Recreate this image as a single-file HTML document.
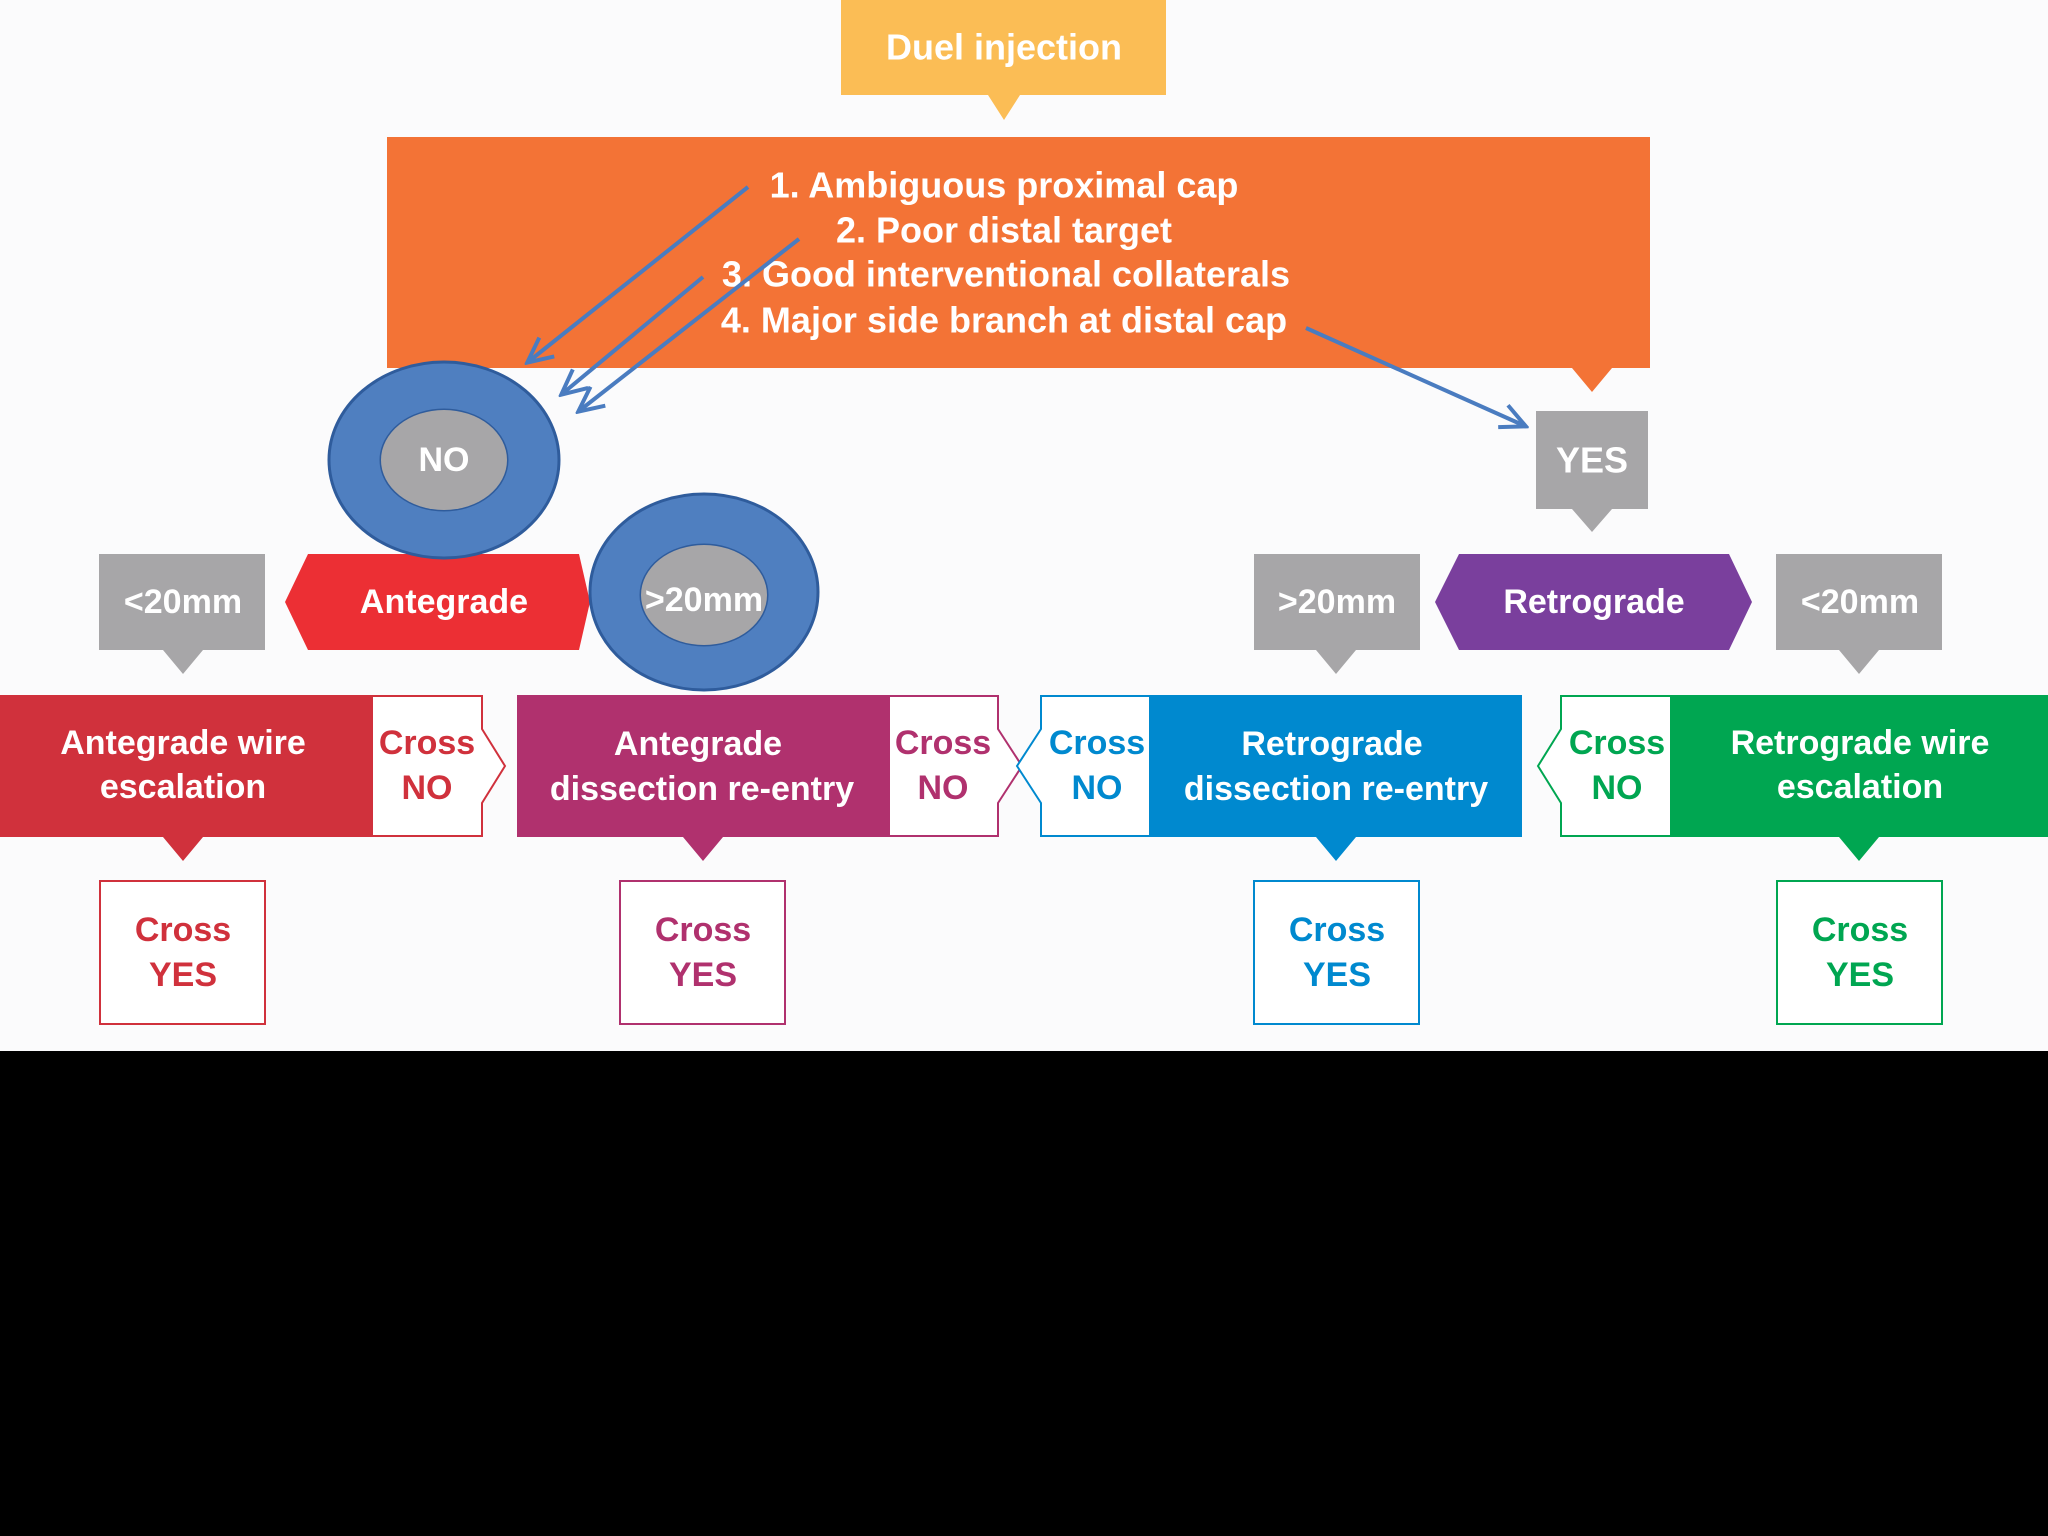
<!DOCTYPE html>
<html><head><meta charset="utf-8"><style>
html,body{margin:0;padding:0;background:#000;}
svg{display:block;}
text{font-family:"Liberation Sans",Arial,sans-serif;font-weight:bold;text-anchor:middle;dominant-baseline:central;}
</style></head><body>
<svg width="2048" height="1536" viewBox="0 0 2048 1536" xmlns="http://www.w3.org/2000/svg">
<defs><marker id="ah" markerWidth="10" markerHeight="10" refX="8" refY="5" orient="auto" markerUnits="userSpaceOnUse" viewBox="0 0 10 10"><path d="M0,0 L9,5 L0,10" fill="none" stroke="#4a7cc0" stroke-width="1.6"/></marker>
<marker id="ah2" markerWidth="30" markerHeight="30" refX="26" refY="15" orient="auto" markerUnits="userSpaceOnUse"><path d="M2,3 L27,15 L2,27" fill="none" stroke="#4a7cc0" stroke-width="4"/></marker></defs>
<rect x="0" y="0" width="2048" height="1051" fill="#fbfbfc"/>
<!-- Duel injection -->
<path d="M841,0 H1166 V95 H1020 L1004,120 L988,95 H841 Z" fill="#fbbd55"/>
<text x="1004" y="47" font-size="36" fill="#fff">Duel injection</text>
<!-- orange -->
<path d="M387,137 H1650 V368 H1612 L1592,392 L1572,368 H387 Z" fill="#f37336"/>
<g font-size="36" fill="#fff">
<text x="1004" y="185">1.  Ambiguous proximal cap</text>
<text x="1004" y="230">2.  Poor distal target</text>
<text x="1006" y="274">3.  Good interventional collaterals</text>
<text x="1004" y="320">4. Major side branch at distal cap</text>
</g>
<!-- YES -->
<path d="M1536,411 H1648 V509 H1612 L1592,532 L1572,509 H1536 Z" fill="#a7a6a8"/>
<text x="1592" y="460" font-size="36" fill="#fff">YES</text>
<!-- row 2 -->
<path d="M99,554 H265 V650 H203 L183,674 L163,650 H99 Z" fill="#a7a6a8"/>
<text x="183" y="602" font-size="34" fill="#fff">&lt;20mm</text>
<path d="M308,554 H579 L590,602 L579,650 H308 L285,602 Z" fill="#ec2f34"/>
<text x="444" y="602" font-size="34" fill="#fff">Antegrade</text>
<path d="M620,554 H787 V650 H724 L704,674 L684,650 H620 Z" fill="#a7a6a8"/>
<path d="M1254,554 H1420 V650 H1356 L1336,674 L1316,650 H1254 Z" fill="#a7a6a8"/>
<text x="1337" y="602" font-size="34" fill="#fff">&gt;20mm</text>
<path d="M1459,554 H1729 L1752,602 L1729,650 H1459 L1435,602 Z" fill="#7a3f9d"/>
<text x="1594" y="602" font-size="34" fill="#fff">Retrograde</text>
<path d="M1776,554 H1942 V650 H1879 L1859,674 L1839,650 H1776 Z" fill="#a7a6a8"/>
<text x="1860" y="602" font-size="34" fill="#fff">&lt;20mm</text>
<!-- row 3 -->
<path d="M0,695 H371 V837 H203 L183,861 L163,837 H0 Z" fill="#d0313c"/>
<path d="M372,696 H482 V729 L505,766 L482,803 V836 H372 Z" fill="#fff" stroke="#d0313c" stroke-width="2"/>
<text x="183" y="743" font-size="34" fill="#fff">Antegrade wire</text>
<text x="183" y="787" font-size="34" fill="#fff">escalation</text>
<text x="427" y="743" font-size="34" fill="#d0313c">Cross</text>
<text x="427" y="788" font-size="34" fill="#d0313c">NO</text>

<path d="M517,695 H888 V837 H723 L703,861 L683,837 H517 Z" fill="#b0316e"/>
<path d="M889,696 H998 V729 L1022,766 L998,803 V836 H889 Z" fill="#fff" stroke="#b0316e" stroke-width="2"/>
<text x="698" y="744" font-size="34" fill="#fff">Antegrade</text>
<text x="702" y="789" font-size="34" fill="#fff">dissection re-entry</text>
<text x="943" y="743" font-size="34" fill="#b0316e">Cross</text>
<text x="943" y="788" font-size="34" fill="#b0316e">NO</text>

<path d="M1151,695 H1522 V837 H1356 L1336,861 L1316,837 H1151 Z" fill="#0089cf"/>
<path d="M1150,696 H1041 V729 L1017,766 L1041,803 V836 H1150 Z" fill="#fff" stroke="#0089cf" stroke-width="2"/>
<text x="1332" y="744" font-size="34" fill="#fff">Retrograde</text>
<text x="1336" y="789" font-size="34" fill="#fff">dissection re-entry</text>
<text x="1097" y="743" font-size="34" fill="#0089cf">Cross</text>
<text x="1097" y="788" font-size="34" fill="#0089cf">NO</text>

<path d="M1672,695 H2048 V837 H1879 L1859,861 L1839,837 H1672 Z" fill="#00a651"/>
<path d="M1671,696 H1561 V729 L1538,766 L1561,803 V836 H1671 Z" fill="#fff" stroke="#00a651" stroke-width="2"/>
<text x="1860" y="743" font-size="34" fill="#fff">Retrograde wire</text>
<text x="1860" y="787" font-size="34" fill="#fff">escalation</text>
<text x="1617" y="743" font-size="34" fill="#00a651">Cross</text>
<text x="1617" y="788" font-size="34" fill="#00a651">NO</text>
<!-- bottom -->
<rect x="100" y="881" width="165" height="143" fill="#fff" stroke="#d0313c" stroke-width="2"/>
<text x="183" y="930" font-size="34" fill="#d0313c">Cross</text><text x="183" y="975" font-size="34" fill="#d0313c">YES</text>
<rect x="620" y="881" width="165" height="143" fill="#fff" stroke="#b0316e" stroke-width="2"/>
<text x="703" y="930" font-size="34" fill="#b0316e">Cross</text><text x="703" y="975" font-size="34" fill="#b0316e">YES</text>
<rect x="1254" y="881" width="165" height="143" fill="#fff" stroke="#0089cf" stroke-width="2"/>
<text x="1337" y="930" font-size="34" fill="#0089cf">Cross</text><text x="1337" y="975" font-size="34" fill="#0089cf">YES</text>
<rect x="1777" y="881" width="165" height="143" fill="#fff" stroke="#00a651" stroke-width="2"/>
<text x="1860" y="930" font-size="34" fill="#00a651">Cross</text><text x="1860" y="975" font-size="34" fill="#00a651">YES</text>
<!-- circles -->
<path fill-rule="evenodd" d="M329,460 a115,98 0 1,0 230,0 a115,98 0 1,0 -230,0 Z M381,460 a63,50 0 1,0 126,0 a63,50 0 1,0 -126,0 Z" fill="#4f7fc0" stroke="#2f5c9c" stroke-width="3"/>
<ellipse cx="444" cy="460" rx="63" ry="50" fill="#a7a6a8"/>
<text x="444" y="460" font-size="34" fill="#fff">NO</text>
<path fill-rule="evenodd" d="M590,592 a114,98 0 1,0 228,0 a114,98 0 1,0 -228,0 Z M641,595 a63,50 0 1,0 126,0 a63,50 0 1,0 -126,0 Z" fill="#4f7fc0" stroke="#2f5c9c" stroke-width="3"/>
<ellipse cx="704" cy="595" rx="63" ry="50" fill="#a7a6a8"/>
<text x="704" y="600" font-size="34" fill="#fff">&gt;20mm</text>
<!-- arrows -->
<g stroke="#4a7cc0" stroke-width="4" fill="none" marker-end="url(#ah2)">
<line x1="748" y1="187" x2="528" y2="362"/>
<line x1="703" y1="277" x2="562" y2="394"/>
<line x1="799" y1="239" x2="579" y2="411"/>
<line x1="1306" y1="328" x2="1525" y2="426"/>
</g>
</svg>
</body></html>
